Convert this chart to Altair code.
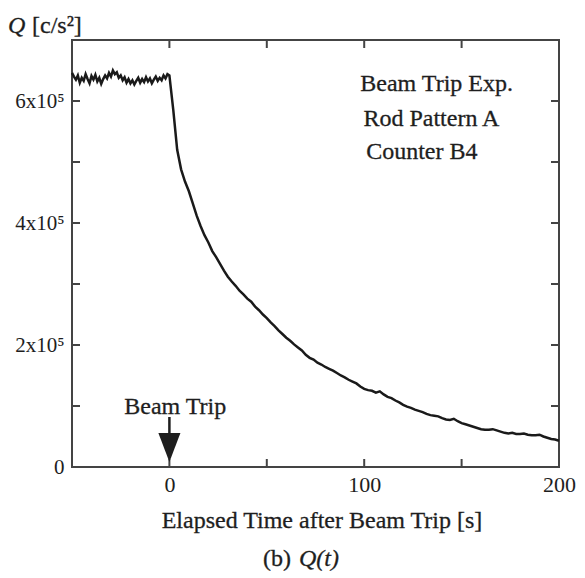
import altair as alt
import pandas as pd

# ---- data ----
time_s = [-50, -49, -48, -47, -46, -45, -44, -43, -42, -41,
          -40, -39, -38, -37, -36, -35, -34, -33, -32, -31,
          -30, -29, -28, -27, -26, -25, -24, -23, -22, -21,
          -20, -19, -18, -17, -16, -15, -14, -13, -12, -11,
          -10, -9, -8, -7, -6, -5, -4, -3, -2, -1,
          0, 2, 4, 6, 8, 10, 12, 14, 16, 18,
          20, 22, 24, 26, 28, 30, 32, 34, 36, 38,
          40, 42, 44, 46, 48, 50, 52, 54, 56, 58,
          60, 62, 64, 66, 68, 70, 72, 74, 76, 78,
          80, 82, 84, 86, 88, 90, 92, 94, 96, 98,
          100, 102, 104, 106, 108, 110, 112, 114, 116, 118,
          120, 122, 124, 126, 128, 130, 132, 134, 136, 138,
          140, 142, 144, 146, 148, 150, 152, 154, 156, 158,
          160, 162, 164, 166, 168, 170, 172, 174, 176, 178,
          180, 182, 184, 186, 188, 190, 192, 194, 196, 198, 200]

q_1e5 = [6.46, 6.40, 6.35, 6.42, 6.30, 6.38, 6.33, 6.44, 6.36, 6.29,
         6.41, 6.35, 6.43, 6.32, 6.38, 6.28, 6.36, 6.42, 6.37, 6.46,
         6.40, 6.50, 6.44, 6.47, 6.38, 6.42, 6.34, 6.39, 6.30, 6.36,
         6.29, 6.34, 6.27, 6.33, 6.38, 6.30, 6.36, 6.31, 6.39, 6.32,
         6.37, 6.29, 6.35, 6.40, 6.33, 6.38, 6.34, 6.42, 6.37, 6.44,
         6.42, 5.85, 5.20, 4.88, 4.68, 4.52, 4.32, 4.12, 3.95, 3.80,
         3.68, 3.54, 3.44, 3.33, 3.22, 3.12, 3.04, 2.97, 2.89, 2.83,
         2.76, 2.71, 2.63, 2.57, 2.50, 2.44, 2.37, 2.31, 2.24, 2.18,
         2.12, 2.07, 2.01, 1.96, 1.91, 1.84, 1.79, 1.76, 1.71, 1.68,
         1.64, 1.61, 1.58, 1.54, 1.50, 1.47, 1.43, 1.40, 1.37, 1.32,
         1.28, 1.26, 1.25, 1.22, 1.24, 1.19, 1.15, 1.13, 1.09, 1.06,
         1.02, 0.99, 0.97, 0.94, 0.92, 0.90, 0.87, 0.85, 0.84, 0.83,
         0.80, 0.78, 0.77, 0.79, 0.75, 0.72, 0.70, 0.68, 0.66, 0.64,
         0.62, 0.61, 0.61, 0.62, 0.60, 0.58, 0.56, 0.55, 0.56, 0.54,
         0.54, 0.55, 0.53, 0.52, 0.52, 0.53, 0.50, 0.48, 0.46, 0.45, 0.43]

x_tick_values = [0, 50, 100, 150]
y_tick_values = [100000, 200000, 300000, 400000, 500000, 600000]
x_label_values = [0, 100, 200]
y_label_values = [0, 200000, 400000, 600000]

annot_lines = ["Beam Trip Exp.", "Rod Pattern A", "Counter B4"]
annot_t = [98, 99.6, 101]
annot_q = [628000, 570000, 516000]

FONT = "Liberation Serif"
INK = "#1e1e1e"
FRAME = "#444444"
W, H = 487, 427

df = pd.DataFrame({"t": time_s, "q": [v * 1e5 for v in q_1e5]})

xs = alt.Scale(domain=[-50, 200], nice=False, zero=False)
ys = alt.Scale(domain=[0, 700000], nice=False)

line = alt.Chart(df).mark_line(color="#1a1a1a", strokeWidth=2.5).encode(
    x=alt.X("t:Q", scale=xs,
            axis=alt.Axis(values=x_label_values, title=None, grid=False, domain=False,
                          tickSize=0, labelFont=FONT, labelFontSize=22, labelColor=INK,
                          labelPadding=7, labelFlush=False)),
    y=alt.Y("q:Q", scale=ys,
            axis=alt.Axis(values=y_label_values, title=None, grid=False, domain=False,
                          tickSize=0, labelFont=FONT, labelFontSize=21, labelColor=INK,
                          labelPadding=8,
                          labelExpr="datum.value == 0 ? '0' : format(datum.value / 100000, 'd') + 'x10\u2075'")),
)

xt = pd.DataFrame({"t": x_tick_values})
yt = pd.DataFrame({"q": y_tick_values})
tick_style = dict(color=FRAME, strokeWidth=2)
bottom_ticks = alt.Chart(xt).mark_rule(**tick_style).encode(
    x=alt.X("t:Q", scale=xs), y=alt.value(H), y2=alt.value(H - 8))
top_ticks = alt.Chart(xt).mark_rule(**tick_style).encode(
    x=alt.X("t:Q", scale=xs), y=alt.value(0), y2=alt.value(8))
left_ticks = alt.Chart(yt).mark_rule(**tick_style).encode(
    y=alt.Y("q:Q", scale=ys), x=alt.value(0), x2=alt.value(8))
right_ticks = alt.Chart(yt).mark_rule(**tick_style).encode(
    y=alt.Y("q:Q", scale=ys), x=alt.value(W), x2=alt.value(W - 8))

# Beam trip arrow
arrow_df = pd.DataFrame({"t": [0], "q_top": [82000], "q_bot": [50000], "q_head": [32000],
                         "t_text": [3], "q_text": [98000], "label": ["Beam Trip"]})
arrow_shaft = alt.Chart(arrow_df).mark_rule(color=INK, strokeWidth=2.5).encode(
    x=alt.X("t:Q", scale=xs), y=alt.Y("q_top:Q", scale=ys), y2="q_bot:Q")
arrow_head = alt.Chart(arrow_df).mark_point(
    shape="M-0.76,-1 L0.76,-1 L0,1 Z", filled=True, color=INK, opacity=1, size=841
).encode(x=alt.X("t:Q", scale=xs), y=alt.Y("q_head:Q", scale=ys))

text_style = dict(font=FONT, fontSize=24, color=INK, stroke=INK, strokeWidth=0.3)
arrow_text = alt.Chart(arrow_df).mark_text(
    align="center", baseline="middle", **text_style
).encode(x=alt.X("t_text:Q", scale=xs), y=alt.Y("q_text:Q", scale=ys), text="label:N")

annot_df = pd.DataFrame({"t": annot_t, "q": annot_q, "label": annot_lines})
annot = alt.Chart(annot_df).mark_text(
    align="left", baseline="middle", **text_style
).encode(x=alt.X("t:Q", scale=xs), y=alt.Y("q:Q", scale=ys), text="label:N")

one = pd.DataFrame({"a": [0]})
def txt(s, x, y, size=24, italic=False, align="left"):
    kw = dict(font=FONT, fontSize=size, color=INK, stroke=INK, strokeWidth=0.3,
              align=align, baseline="alphabetic", text=s)
    if italic:
        kw["fontStyle"] = "italic"
    return alt.Chart(one).mark_text(**kw).encode(x=alt.value(x), y=alt.value(y))

y_title_q = txt("Q", -64, -7, italic=True)
y_title_rest = txt("[c/s\u00b2]", -40, -7)
x_title = txt("Elapsed Time after Beam Trip [s]", 250, 61 + H, align="center")
cap_b = txt("(b)", 191, 99 + H)
cap_q = txt("Q(t)", 227, 99 + H, italic=True)

chart = alt.layer(
    line, bottom_ticks, top_ticks, left_ticks, right_ticks,
    arrow_shaft, arrow_head, arrow_text, annot,
    y_title_q, y_title_rest, x_title, cap_b, cap_q,
).properties(
    width=W, height=H,
    autosize=alt.AutoSizeParams(type="none"),
    padding={"left": 72, "top": 40, "right": 26, "bottom": 111},
    background="white",
).configure_view(stroke=FRAME, strokeWidth=2)

chart.save("out.html", embed_options={"renderer": "svg", "actions": False})
